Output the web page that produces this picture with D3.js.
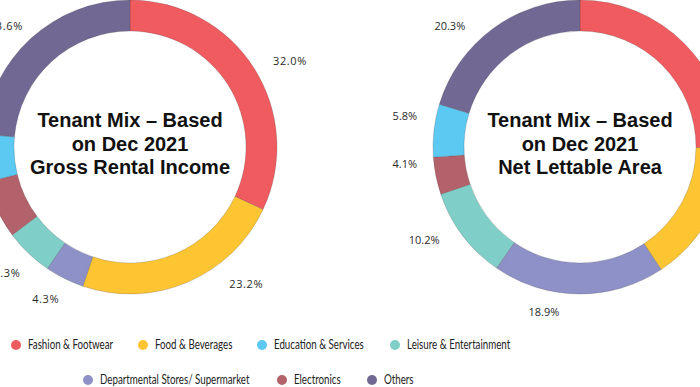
<!DOCTYPE html>
<html><head><meta charset="utf-8">
<script src="https://cdn.jsdelivr.net/npm/d3@7"></script>
<style>
html,body{margin:0;padding:0;background:#fff;overflow:hidden;}
svg{display:block;}
</style></head>
<body>
<svg id="chart" width="700" height="387"></svg>
<script>
// ---- data ----
const categories = ["Fashion & Footwear","Food & Beverages","Departmental Stores/ Supermarket","Leisure & Entertainment","Electronics","Education & Services","Others"];
const griValues = [32.0, 23.2, 4.3, 5.3, 6.4, 5.2, 23.6];   // Gross Rental Income (%)
const nlaValues = [25.1, 15.6, 18.9, 10.2, 4.1, 5.8, 20.3]; // Net Lettable Area (%)
const griTitle = ["Tenant Mix \u2013 Based", "on Dec 2021", "Gross Rental Income"];
const nlaTitle = ["Tenant Mix \u2013 Based", "on Dec 2021", "Net Lettable Area"];
const legendRow1 = ["Fashion & Footwear","Food & Beverages","Education & Services","Leisure & Entertainment"];
const legendRow2 = ["Departmental Stores/ Supermarket","Electronics","Others"];

// ---- style / layout ----
const colors = {
  "Fashion & Footwear":"#EF5B5F",
  "Food & Beverages":"#FEC533",
  "Departmental Stores/ Supermarket":"#8D91C7",
  "Leisure & Entertainment":"#7FCFC8",
  "Electronics":"#B3616B",
  "Education & Services":"#5BC9F2",
  "Others":"#716894"
};
const color = d3.scaleOrdinal().domain(categories).range(categories.map(c=>colors[c]));
const outerR = 147, innerR = 116;
// manual label placement (degrees clockwise from top, radius); null = label lies outside the picture
const griLabelAngle = [61.5, 139.5, 209.2, 224.4, null, null, 314.5];
const griLabelR =     [182, 179, 173, 176, 0, 0, 174];
const nlaLabelAngle = [null, null, 192.4, 239.4, 264.5, 280.3, 313];
const nlaLabelR =     [0, 0, 168, 181, 176, 178, 178];
const legendX1 = [16, 143, 262, 395];
const legendX2 = [88, 282, 372];
const legendScaleX = 0.78;

const svg = d3.select("#chart");
const pie = d3.pie().sort(null).value(d=>d.v);
const arc = d3.arc().innerRadius(innerR).outerRadius(outerR);

function donut(cx, cy, values, title, labelAngle, labelR, spacing) {
  const g = svg.append("g").attr("transform", `translate(${cx},${cy})`);
  const data = pie(categories.map((c,i)=>({c, v: values[i]})));
  g.selectAll("path.slice").data(data).join("path")
    .attr("class","slice")
    .attr("d", arc)
    .attr("fill", d=>color(d.data.c))
    .attr("stroke", "rgba(60,60,60,0.35)")
    .attr("stroke-width", 0.6);
  const shown = data.map((d,i)=>({d,i})).filter(o=>labelAngle[o.i] !== null);
  g.selectAll("text.lbl").data(shown).join("text")
    .attr("class","lbl")
    .each(function(o){
      const a = labelAngle[o.i]*Math.PI/180;
      const la = d3.arc().innerRadius(labelR[o.i]).outerRadius(labelR[o.i]).startAngle(a).endAngle(a);
      const p = la.centroid();
      d3.select(this).attr("x", p[0]).attr("y", p[1]);
    })
    .attr("text-anchor","middle")
    .attr("dominant-baseline","central")
    .attr("font-family","'Open Sans', sans-serif")
    .attr("font-size", 11)
    .attr("letter-spacing", spacing)
    .attr("fill","#2a2a2a")
    .text(o=>d3.format(".1f")(o.d.data.v)+"%");
  const t = g.append("text")
    .attr("text-anchor","middle")
    .attr("font-family","'Liberation Sans', Arial, sans-serif")
    .attr("font-weight","bold")
    .attr("font-size", 20)
    .attr("fill","#111");
  title.forEach((line,i)=>{
    t.append("tspan").attr("x",0).attr("y", -20 + i*23.5).text(line);
  });
}

donut(130, 147, griValues, griTitle, griLabelAngle, griLabelR, 0.6);
donut(580, 147, nlaValues, nlaTitle, nlaLabelAngle, nlaLabelR, 0);

function legendRow(items, xs, y) {
  const g = svg.append("g");
  const it = g.selectAll("g").data(items).join("g")
    .attr("transform",(d,i)=>`translate(${xs[i]},${y})`);
  it.append("circle").attr("r",5).attr("fill",d=>color(d));
  it.append("text")
    .attr("transform", `translate(12,0) scale(${legendScaleX},1)`)
    .attr("dy","0.35em")
    .attr("font-family","Lato, 'Open Sans', sans-serif")
    .attr("font-size",12.5)
    .attr("fill","#222")
    .text(d=>d);
}
legendRow(legendRow1, legendX1, 345);
legendRow(legendRow2, legendX2, 380);
</script>
</body></html>
